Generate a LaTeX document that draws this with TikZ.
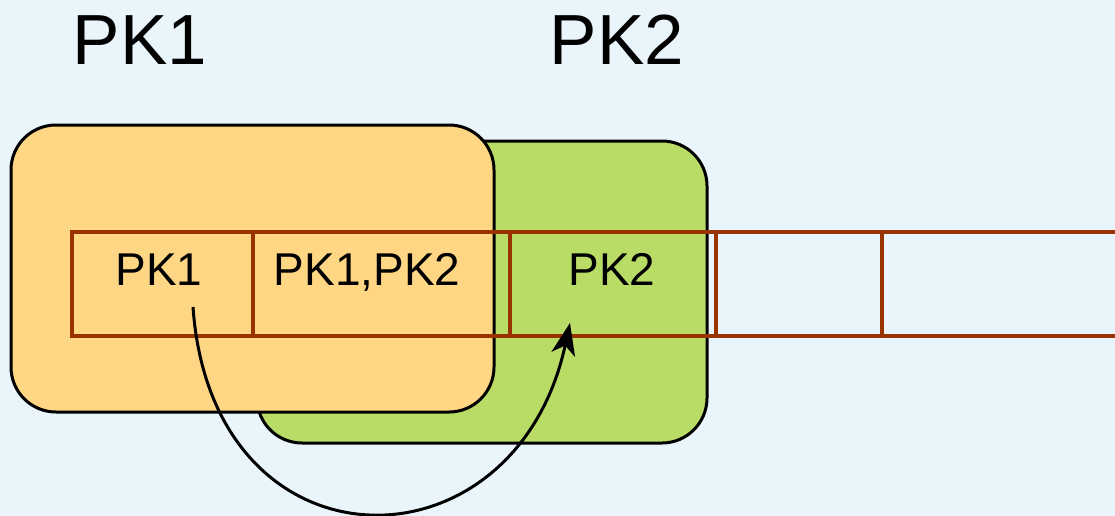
\documentclass[tikz,border=0pt]{standalone}
\usepackage{fontspec}
\setmainfont{Liberation Sans}
\usetikzlibrary{arrows.meta,positioning}
\definecolor{bgblue}{HTML}{EAF5FB}
\definecolor{pkorange}{HTML}{FFD683}
\definecolor{pkgreen}{HTML}{B9DC66}
\definecolor{cellbrown}{HTML}{993300}
\tikzset{
  pkbox/.style = {rectangle, rounded corners=45pt, draw=black, line width=3pt,
    inner sep=0pt, outer sep=0pt, anchor=north west},
  pk_o/.style = {pkbox, fill=pkorange, minimum width=483pt,
    minimum height=287pt},% zone PK1, orange
  pk_g/.style = {pkbox, fill=pkgreen, minimum width=450pt,
    minimum height=302pt},% zone PK2, vert
  cell/.style = {rectangle, draw=cellbrown, line width=4pt, inner sep=0pt,
    outer sep=0pt, minimum height=104pt},% case du tableau
  celltxt/.style = {font=\fontsize{46}{55}\selectfont, inner sep=0pt,
    anchor=base},
  pktitle/.style = {font=\fontsize{71}{85}\selectfont, inner sep=0pt,
    anchor=base}
}
\begin{document}
\begin{tikzpicture}[x=1pt,y=-1pt]
\fill[bgblue] (0,0) rectangle (1115,516);
\useasboundingbox (0,0) rectangle (1115,516);
% zones
\node [pk_g] (zone2) at (257,141) {};
\node [pk_o] (zone1) at (11,125) {};
% tableau
\node [cell, anchor=north west, minimum width=181pt] (c1) at (72,232) {};
\node [cell, minimum width=257pt, right=0pt of c1] (c2) {};
\node [cell, minimum width=206pt, right=0pt of c2] (c3) {};
\node [cell, minimum width=166pt, right=0pt of c3] (c4) {};
\node [cell, minimum width=245pt, right=0pt of c4] (c5) {};
\node [celltxt] (t1) at (159,285) {PK1};
\node [celltxt] (t2) at (367,285) {PK1,PK2};
\node [celltxt] (t3) at (612,285) {PK2};
% titres
\node [pktitle] (title1) at (140,65) {PK1};
\node [pktitle] (title2) at (617,65) {PK2};
% fleche
\coordinate (arrS) at (193,307);
\coordinate (arrE) at (570,323);
\draw [-{Stealth[length=32pt,width=24pt,inset=9pt]}, line width=3pt]
  (arrS) .. controls (212,578) and (515,578) .. (arrE);
\end{tikzpicture}
\end{document}
